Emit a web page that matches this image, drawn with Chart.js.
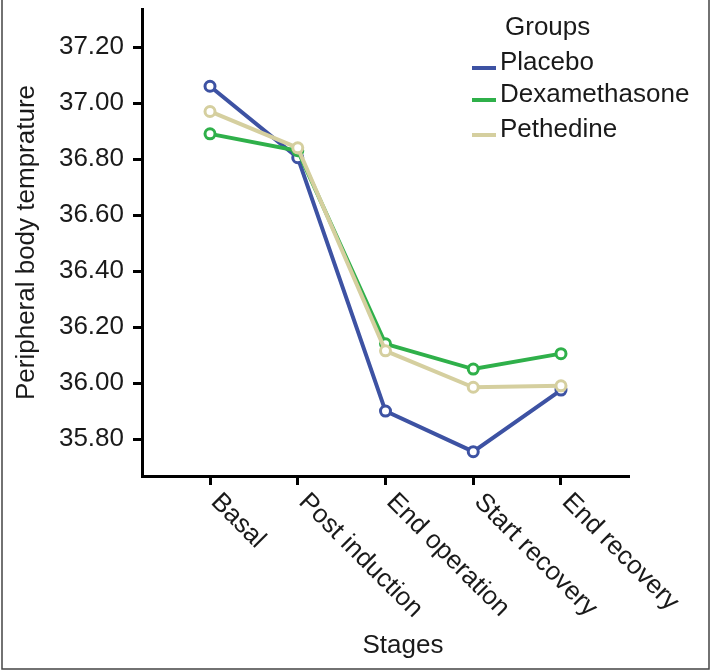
<!DOCTYPE html>
<html>
<head>
<meta charset="utf-8">
<script src="https://cdn.jsdelivr.net/npm/chart.js@4"></script>
<style>
  html, body { margin: 0; padding: 0; background: #fff; }
  #wrap { width: 711px; height: 671px; }
</style>
</head>
<body>
<div id="wrap"><canvas id="myChart" width="711" height="671"></canvas></div>
<script>
// Datos
const stages = ["Basal", "Post induction", "End operation", "Start recovery", "End recovery"];
const placebo = [37.06, 36.805, 35.90, 35.755, 35.975];
const dexamethasone = [36.89, 36.83, 36.14, 36.05, 36.105];
const pethedine = [36.97, 36.84, 36.115, 35.985, 35.99];
const yTicks = [35.8, 36.0, 36.2, 36.4, 36.6, 36.8, 37.0, 37.2];

const FONT = '"Liberation Sans", Arial, sans-serif';
const TEXT = "#1a1a1a";

const toPoints = (arr) => arr.map((v, i) => ({ x: i, y: v }));

function serie(label, data, color, order) {
  return {
    label: label,
    data: toPoints(data),
    borderColor: color,
    backgroundColor: "#fff",
    borderWidth: 4,
    pointRadius: 5,
    pointBorderWidth: 3,
    pointBorderColor: color,
    pointBackgroundColor: "#fff",
    tension: 0,
    order: order,
  };
}

// Etiquetas rotadas, titulo del eje x, leyenda y marco
const extras = {
  id: "extras",
  afterDraw(chart) {
    const ctx = chart.ctx;
    const xs = chart.scales.x;
    ctx.save();
    ctx.fillStyle = TEXT;
    ctx.font = "26px " + FONT;

    stages.forEach((s, i) => {
      const px = xs.getPixelForValue(i);
      ctx.save();
      ctx.translate(px + 5, 498);
      ctx.rotate(Math.PI / 4);
      ctx.textAlign = "left";
      ctx.textBaseline = "middle";
      ctx.fillText(s, 0, 0);
      ctx.restore();
    });

    ctx.textAlign = "center";
    ctx.textBaseline = "middle";
    ctx.fillText("Stages", 403, 646);

    // leyenda
    ctx.textAlign = "left";
    ctx.textBaseline = "alphabetic";
    ctx.fillText("Groups", 505, 35);
    const rows = [70, 102, 137];
    chart.data.datasets.forEach((ds, i) => {
      ctx.strokeStyle = ds.borderColor;
      ctx.lineWidth = 4;
      ctx.beginPath();
      ctx.moveTo(472, rows[i] - 2);
      ctx.lineTo(496, rows[i] - 2);
      ctx.stroke();
      ctx.fillText(ds.label, 500, rows[i]);
    });

    // marco
    ctx.strokeStyle = "#444";
    ctx.lineWidth = 1.5;
    ctx.beginPath();
    ctx.moveTo(2, 0);
    ctx.lineTo(2, 669);
    ctx.lineTo(709, 669);
    ctx.lineTo(709, 0);
    ctx.stroke();
    ctx.restore();
  },
};

const ctx = document.getElementById("myChart").getContext("2d");
new Chart(ctx, {
  type: "line",
  data: {
    datasets: [
      serie("Placebo", placebo, "#3d52a3", 2),
      serie("Dexamethasone", dexamethasone, "#2fb04a", 1),
      serie("Pethedine", pethedine, "#d5cf9f", 0),
    ],
  },
  options: {
    responsive: false,
    animation: false,
    layout: { padding: { top: 9, right: 82, left: 0, bottom: 0 } },
    plugins: {
      legend: { display: false },
      tooltip: { enabled: false },
    },
    scales: {
      x: {
        type: "linear",
        min: -0.775,
        max: 4.775,
        afterBuildTicks: (scale) => {
          scale.ticks = stages.map((s, i) => ({ value: i }));
        },
        afterFit: (scale) => {
          scale.height = 195;
          scale.paddingLeft = 0;
          scale.paddingRight = 0;
        },
        ticks: { display: false },
        grid: {
          display: true,
          drawOnChartArea: false,
          tickLength: 9,
          tickWidth: 3,
          tickColor: "#000",
        },
        border: { display: true, color: "#000", width: 3 },
      },
      y: {
        type: "linear",
        min: 35.668,
        max: 37.336,
        afterBuildTicks: (scale) => {
          scale.ticks = yTicks.map((v) => ({ value: v }));
        },
        afterFit: (scale) => {
          scale.width = 142;
          scale.paddingTop = 0;
          scale.paddingBottom = 0;
        },
        ticks: {
          color: TEXT,
          font: { family: FONT, size: 26 },
          padding: 9,
          callback: (v) => Number(v).toFixed(2),
        },
        grid: {
          display: true,
          drawOnChartArea: false,
          tickLength: 9,
          tickWidth: 3,
          tickColor: "#000",
        },
        border: { display: true, color: "#000", width: 3 },
        title: {
          display: true,
          text: "Peripheral body temprature",
          color: TEXT,
          font: { family: FONT, size: 26 },
          padding: { top: 11, bottom: 0 },
        },
      },
    },
  },
  plugins: [extras],
});
</script>
</body>
</html>
